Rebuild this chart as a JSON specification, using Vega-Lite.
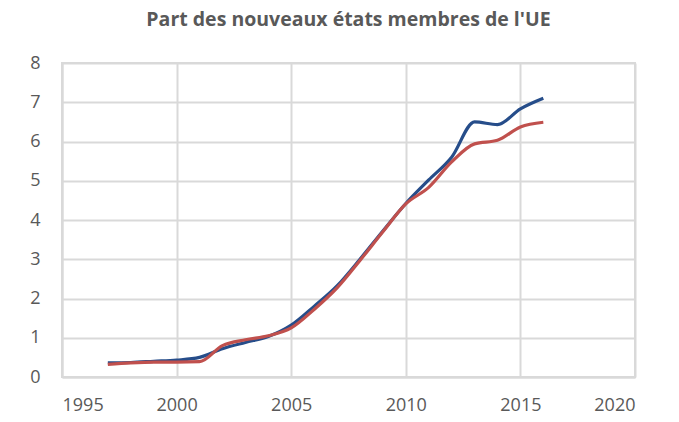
{
  "$schema": "https://vega.github.io/schema/vega-lite/v6.json",
  "width": 573,
  "height": 314,
  "autosize": {"type": "none"},
  "padding": {"left": 62, "top": 63, "right": 44, "bottom": 45},
  "background": "white",
  "title": {
    "text": "Part des nouveaux états membres de l'UE",
    "font": "Open Sans",
    "fontSize": 19.5,
    "fontWeight": "bold",
    "color": "#595959",
    "anchor": "middle",
    "offset": 24
  },
  "config": {
    "view": {"stroke": "#d9d9d9", "strokeWidth": 2},
    "axis": {
      "labelFont": "Open Sans",
      "labelFontSize": 18,
      "labelColor": "#595959",
      "gridColor": "#d9d9d9",
      "gridWidth": 2,
      "domainColor": "#d9d9d9",
      "domainWidth": 2,
      "ticks": false,
      "title": null
    }
  },
  "data": {
    "values": [
      {"year": 1997, "series": "blue", "value": 0.36},
      {"year": 1998, "series": "blue", "value": 0.37},
      {"year": 1999, "series": "blue", "value": 0.40},
      {"year": 2000, "series": "blue", "value": 0.43},
      {"year": 2001, "series": "blue", "value": 0.50},
      {"year": 2002, "series": "blue", "value": 0.72},
      {"year": 2003, "series": "blue", "value": 0.88},
      {"year": 2004, "series": "blue", "value": 1.03},
      {"year": 2005, "series": "blue", "value": 1.32},
      {"year": 2006, "series": "blue", "value": 1.80},
      {"year": 2007, "series": "blue", "value": 2.32},
      {"year": 2008, "series": "blue", "value": 3.0},
      {"year": 2009, "series": "blue", "value": 3.72},
      {"year": 2010, "series": "blue", "value": 4.42},
      {"year": 2011, "series": "blue", "value": 5.02},
      {"year": 2012, "series": "blue", "value": 5.6},
      {"year": 2013, "series": "blue", "value": 6.5},
      {"year": 2014, "series": "blue", "value": 6.43},
      {"year": 2015, "series": "blue", "value": 6.83},
      {"year": 2016, "series": "blue", "value": 7.1},
      {"year": 1997, "series": "red", "value": 0.32},
      {"year": 1998, "series": "red", "value": 0.36},
      {"year": 1999, "series": "red", "value": 0.38},
      {"year": 2000, "series": "red", "value": 0.38},
      {"year": 2001, "series": "red", "value": 0.39},
      {"year": 2002, "series": "red", "value": 0.80},
      {"year": 2003, "series": "red", "value": 0.95},
      {"year": 2004, "series": "red", "value": 1.05},
      {"year": 2005, "series": "red", "value": 1.25},
      {"year": 2006, "series": "red", "value": 1.72},
      {"year": 2007, "series": "red", "value": 2.27},
      {"year": 2008, "series": "red", "value": 2.97},
      {"year": 2009, "series": "red", "value": 3.7},
      {"year": 2010, "series": "red", "value": 4.41},
      {"year": 2011, "series": "red", "value": 4.83},
      {"year": 2012, "series": "red", "value": 5.48},
      {"year": 2013, "series": "red", "value": 5.94},
      {"year": 2014, "series": "red", "value": 6.03},
      {"year": 2015, "series": "red", "value": 6.37},
      {"year": 2016, "series": "red", "value": 6.49}
    ]
  },
  "mark": {"type": "line", "interpolate": "monotone", "strokeWidth": 3.2},
  "encoding": {
    "x": {
      "field": "year",
      "type": "quantitative",
      "scale": {"domain": [1995, 2020], "nice": false, "zero": false},
      "axis": {"values": [1995, 2000, 2005, 2010, 2015, 2020], "format": "d", "labelPadding": 19}
    },
    "y": {
      "field": "value",
      "type": "quantitative",
      "scale": {"domain": [0, 8], "nice": false},
      "axis": {"values": [0, 1, 2, 3, 4, 5, 6, 7, 8], "labelPadding": 22}
    },
    "color": {
      "field": "series",
      "type": "nominal",
      "scale": {"domain": ["red", "blue"], "range": ["#C0504D", "#264D8A"]},
      "legend": null
    },
    "order": {"field": "series", "sort": "descending"}
  }
}
